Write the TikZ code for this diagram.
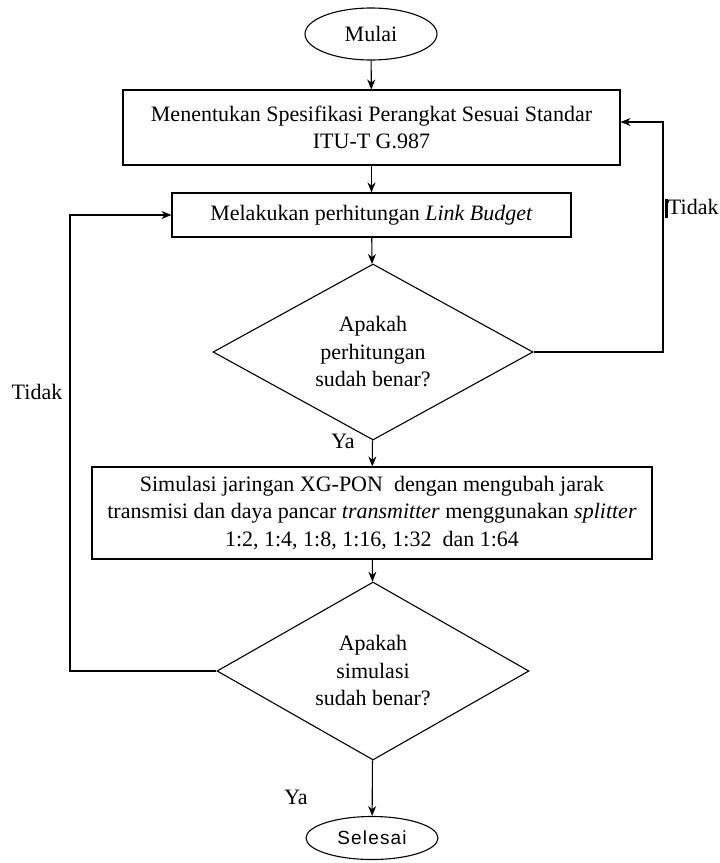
\documentclass[tikz,border=0pt]{standalone}
\usepackage{fontspec}
\setmainfont{Liberation Serif}
\newfontfamily\sansfont[LetterSpace=6]{Liberation Sans}
\usetikzlibrary{arrows.meta}
\usetikzlibrary{shapes.geometric}

\tikzset{
  flowbox/.style={draw, rectangle, inner sep=0pt, align=center},
  startstop/.style={draw, ellipse, inner sep=0pt, minimum width=132pt, minimum height=52pt},
  decision/.style={draw, diamond, inner sep=0pt, align=center},
  flowarrow/.style={-{Stealth[length=10pt,width=8pt]}},
}

\begin{document}
\begin{tikzpicture}[x=1pt, y=-1pt, line width=1.1pt, font=\fontsize{22}{27.5}\selectfont]
\useasboundingbox (0,0) rectangle (720,863);
% terminals
\node[startstop] (mulai) at (371,34) {Mulai};
\node[startstop, minimum height=43pt, font=\sansfont\fontsize{19}{20}\selectfont] (selesai) at (372,838) {Selesai};
% process boxes
\node[flowbox, minimum width=497pt, minimum height=75pt] (spek) at (371.5,127.5) {Menentukan Spesifikasi Perangkat Sesuai Standar\\ITU-T G.987};
\node[flowbox, minimum width=399pt, minimum height=44pt] (budget) at (371.5,215) {Melakukan perhitungan \textit{Link Budget}};
\node[flowbox, minimum width=560pt, minimum height=92pt] (simulasi) at (372,513) {Simulasi jaringan XG-PON\ \ dengan mengubah jarak\\transmisi dan daya pancar \textit{transmitter} menggunakan \textit{splitter}\\1:2, 1:4, 1:8, 1:16, 1:32\ \ dan 1:64};
% decisions
\node[decision, minimum width=320pt, minimum height=176pt, aspect=1.82] (cekhitung) at (373,352) {Apakah\\perhitungan\\sudah benar?};
\node[decision, minimum width=312pt, minimum height=178pt, aspect=1.75] (ceksimul) at (373,671) {Apakah\\simulasi\\sudah benar?};
% feedback corners
\coordinate (kanan) at (663,122);
\coordinate (kiri) at (70,215);
% connectors
\draw[flowarrow] (mulai) -- (spek);
\draw[flowarrow] (spek) -- (budget);
\draw[flowarrow] (budget) -- (cekhitung);
\draw[flowarrow] (cekhitung) -- (simulasi);
\draw[flowarrow] (simulasi) -- (ceksimul);
\draw[flowarrow] (ceksimul) -- (selesai);
\draw[flowarrow] (cekhitung.east) -| (kanan) -- (spek.east |- kanan);
\draw[flowarrow] (ceksimul.west) -| (kiri) -- (budget.west);
% labels
\node (ya1) at (343,441) {Ya};
\node (ya2) at (296,797) {Ya};
\node (tidak1) at (37,392) {Tidak};
\node (tidak2) at (692,208) {\rule[-3pt]{2.5pt}{19pt}Tidak};
\end{tikzpicture}
\end{document}
